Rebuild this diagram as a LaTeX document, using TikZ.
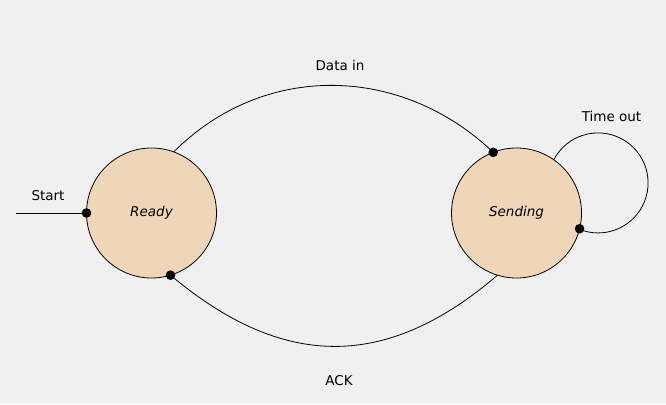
\documentclass[tikz,border=0pt]{standalone}
\usepackage{fontspec}
\setmainfont{DejaVu Sans}
\definecolor{bgc}{RGB}{240,240,240}
\definecolor{statefill}{RGB}{239,214,184}
\begin{document}
\begin{tikzpicture}[x=1pt,y=-1pt,
  state/.style={circle,draw=black,line width=0.8pt,fill=statefill,minimum size=130pt,inner sep=0pt,outer sep=0pt,font=\fontsize{13.5}{16}\selectfont\itshape},
  lbl/.style={font=\fontsize{13.5}{16}\selectfont,inner sep=0pt},
  edge/.style={draw=black,line width=0.8pt},
  dot/.style={fill=black}]
\fill[bgc] (0,0) rectangle (666,404);
\useasboundingbox (0,0) rectangle (666,404);
\node[state] (ready) at (151.5,213) {Ready};
\node[state] (sending) at (516.5,213) {Sending};
\coordinate (startpt) at (16,213);
\node[lbl] (lstart) at (48,196) {Start};
\node[lbl] (ldata) at (340,65.5) {Data in};
\node[lbl] (ltime) at (611.5,116) {Time out};
\node[lbl] (lack) at (339,381) {ACK};
% Start
\draw[edge] (startpt) -- (ready.180);
\fill[dot] (ready.180) circle (4.8);
% Data in
\draw[edge] (ready.70.6) .. controls +(91,-91) and +(-91,-87) .. (sending.111);
\fill[dot] (sending.111) circle (4.8);
% ACK
\draw[edge] (sending.-107) .. controls +(-112,96) and +(112,94) .. (ready.-73);
\fill[dot] (ready.-73) circle (4.8);
% Time out loop
\draw[edge] (sending.55) arc[start angle=207.6,end angle=471.9,radius=50];
\fill[dot] (sending.-14.6) circle (4.8);
\end{tikzpicture}
\end{document}
